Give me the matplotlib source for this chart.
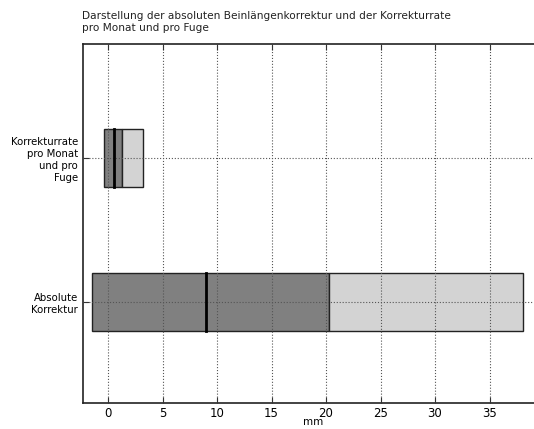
import matplotlib
matplotlib.use("Agg")
import matplotlib.pyplot as plt

# Categories (bottom to top) and their correction ranges in mm
categories = ["Absolute\nKorrektur", "Korrekturrate\npro Monat\nund pro\nFuge"]
lower = [-1.5, -0.4]      # start of the dark segment
split = [20.3, 1.25]      # boundary between dark and light segments
upper = [38.1, 3.2]       # end of the light segment
median = [9.0, 0.5]       # marked central value
x_ticks = [0, 5, 10, 15, 20, 25, 30, 35]

W, H = 534, 429
fig = plt.figure(figsize=(W / 100, H / 100), dpi=100)
ax = fig.add_axes([83 / W, (H - 403) / H, (544 - 83) / W, (403 - 44) / H])

pos = [1, 2]
bar_h = 0.4
dark = [s - l for s, l in zip(split, lower)]
light = [u - s for u, s in zip(upper, split)]
ax.barh(pos, dark, left=lower, height=bar_h, color="#808080",
        edgecolor="#222222", linewidth=1.0, zorder=1)
ax.barh(pos, light, left=split, height=bar_h, color="#d3d3d3",
        edgecolor="#222222", linewidth=1.0, zorder=1)
for p, m in zip(pos, median):
    ax.plot([m, m], [p - bar_h / 2, p + bar_h / 2], color="black",
            linewidth=2.0, zorder=3)

ax.set_xlim(-2.3, 40)
ax.set_ylim(0.3, 2.79)
ax.set_xticks(x_ticks)
ax.set_yticks(pos)
ax.set_yticklabels(categories, ha="right", fontsize=7.3, linespacing=1.25)
ax.tick_params(axis="x", labelsize=8.5, pad=3)
ax.tick_params(direction="in", top=True, right=True, length=4, width=0.8,
               color="#333333")
ax.set_axisbelow(False)
ax.grid(True, linestyle=":", color="#555555", linewidth=0.8)
for s in ax.spines.values():
    s.set_linewidth(1.2)
    s.set_color("#222222")
ax.set_xlabel("mm", fontsize=7.5, labelpad=-2)

fig.text(82 / W, 1 - 11 / H,
         "Darstellung der absoluten Beinlängenkorrektur und der Korrekturrate\npro Monat und pro Fuge",
         ha="left", va="top", fontsize=7.6, linespacing=1.2, color="#222222")

fig.savefig("out.png", dpi=100)
